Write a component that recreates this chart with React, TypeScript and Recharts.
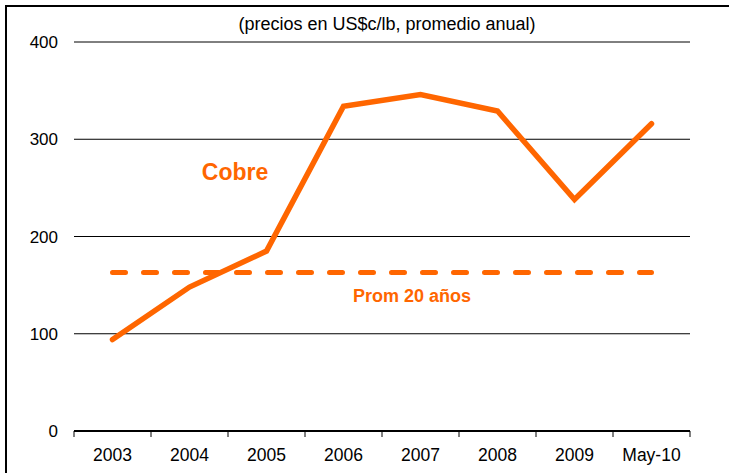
import { LineChart, Line, XAxis, YAxis, CartesianGrid } from 'recharts';

const categories = ['2003', '2004', '2005', '2006', '2007', '2008', '2009', 'May-10'];
const cobre = [94, 148, 185, 334, 346, 329, 238, 316];
const prom20 = [163, 163, 163, 163, 163, 163, 163, 163];
const yTicks = [0, 100, 200, 300, 400];

const ORANGE = '#FF6600';
const FONT = '"Liberation Sans", Arial, sans-serif';

const W = 729;
const H = 473;
const MARGIN = { top: 42, right: 39, bottom: 2, left: 14 };
const Y_AXIS_W = 60;
// width of one category slot, used only to put the label between two edge ticks
const STEP = (W - MARGIN.left - MARGIN.right - Y_AXIS_W) / categories.length;

const data = categories.map((c, i) => ({ x: i + 0.5, name: c, cobre: cobre[i], prom: prom20[i] }));
const edgeTicks = [...categories.map((_, i) => i), categories.length];

const CategoryTick = (props: any) => {
  const { x, y, payload } = props;
  const label = categories[payload.value];
  if (!label) return <g />;
  return (
    <text x={x + STEP / 2} y={y} dy="0.71em" textAnchor="middle" fill="#000" fontSize={17.5} fontFamily={FONT}>
      {label}
    </text>
  );
};

const overlay = (left: number, top: number): React.CSSProperties => ({
  position: 'absolute',
  left,
  top,
  transform: 'translate(-50%, -50%)',
  whiteSpace: 'nowrap',
  fontFamily: FONT,
});

export default function App() {
  return (
    <div style={{ position: 'absolute', left: 0, top: 0, width: W, height: H, background: '#fff', overflow: 'hidden' }}>
      <LineChart width={W} height={H} data={data} margin={MARGIN}>
        <CartesianGrid vertical={false} stroke="#000" strokeWidth={1} />
        <XAxis
          type="number"
          dataKey="x"
          domain={[0, categories.length]}
          ticks={edgeTicks}
          interval={0}
          tick={<CategoryTick />}
          axisLine={{ stroke: '#000', strokeWidth: 2 }}
          tickLine={{ stroke: '#000', strokeWidth: 1 }}
          tickSize={6}
          tickMargin={12}
          height={40}
        />
        <YAxis
          domain={[0, 400]}
          ticks={yTicks}
          axisLine={false}
          tickLine={false}
          width={Y_AXIS_W}
          tickMargin={10}
          tick={{ fill: '#000', fontSize: 17, fontFamily: FONT }}
        />
        <Line
          dataKey="prom"
          stroke={ORANGE}
          strokeWidth={5}
          strokeDasharray="13 18"
          strokeLinecap="round"
          dot={false}
          activeDot={false}
          isAnimationActive={false}
        />
        <Line
          dataKey="cobre"
          stroke={ORANGE}
          strokeWidth={5.5}
          strokeLinecap="round"
          dot={false}
          activeDot={false}
          isAnimationActive={false}
        />
      </LineChart>
      <div style={{ position: 'absolute', left: 5, top: 5, width: 740, height: 480, borderTop: '2px solid #000', borderLeft: '2px solid #000' }} />
      <div style={{ ...overlay(387, 24), fontSize: 18, color: '#000' }}>(precios en US$c/lb, promedio anual)</div>
      <div style={{ ...overlay(235, 172), fontSize: 23, fontWeight: 'bold', color: ORANGE }}>Cobre</div>
      <div style={{ ...overlay(412, 296), fontSize: 18, fontWeight: 'bold', color: ORANGE }}>Prom 20 años</div>
    </div>
  );
}
